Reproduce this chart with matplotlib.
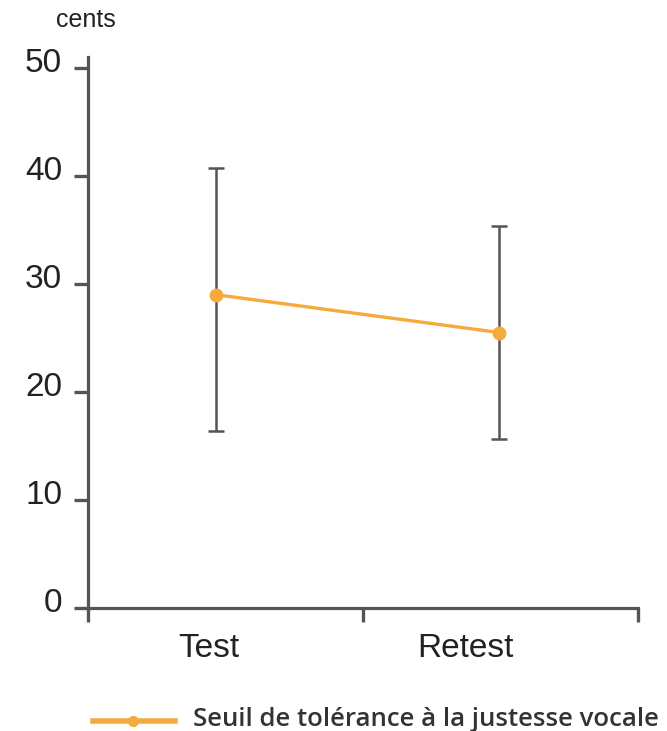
import numpy as np
import matplotlib.pyplot as plt
import matplotlib.transforms as mtransforms
from matplotlib.lines import Line2D

# données
conditions = ["Test", "Retest"]
x_pos = [0.465, 1.495]
moyenne = [29.0, 25.5]
borne_basse = [16.4, 15.6]
borne_haute = [40.7, 35.4]

y_ticks = [0, 10, 20, 30, 40, 50]
label_pos = [0.44, 1.371]

orange = "#F5AA3C"
gris = "#555555"

plt.rcParams['font.family'] = ['Liberation Sans', 'DejaVu Sans']

fig = plt.figure(figsize=(6.67, 7.31), dpi=100)
ax = fig.add_axes([0.132, 1 - 608 / 731, 0.8245, (608 - 57) / 731])

moy = np.array(moyenne)
err = [moy - np.array(borne_basse), np.array(borne_haute) - moy]
ax.errorbar(x_pos, moyenne, yerr=err, fmt='none', ecolor=gris, elinewidth=1.8,
            capsize=5.5, capthick=1.8, zorder=2)
ax.plot(x_pos, moyenne, color=orange, lw=2.4, marker='o', ms=9, zorder=3)

ax.set_xlim(0, 2)
ax.set_ylim(0, 51)
ax.set_xticks([0, 1, 2])
ax.set_xticklabels([])
ax.set_yticks(y_ticks)
ax.set_yticklabels([])

# étiquettes de l'axe y, un peu au-dessus des graduations
decal = mtransforms.ScaledTranslation(-26 / 100, 4.5 / 100, fig.dpi_scale_trans)
for v in y_ticks:
    ax.text(0, v, str(v), ha='right', va='center', fontsize=24, color="#222222",
            transform=ax.get_yaxis_transform() + decal)

for s in ['top', 'right']:
    ax.spines[s].set_visible(False)
for s in ['left', 'bottom']:
    ax.spines[s].set_color(gris)
    ax.spines[s].set_linewidth(2.3)
ax.tick_params(axis='y', length=10, width=2.4, color=gris)
ax.tick_params(axis='x', length=10, width=2.4, color=gris)

for xp, lab in zip(label_pos, conditions):
    ax.text(xp, -2.3, lab, ha='center', va='top', fontsize=24, color="#222222")

fig.text(86 / 667, 1 - 20 / 731, "cents", ha='center', va='center', fontsize=18,
         color="#222222")

# légende
leg_ax = fig.add_axes([0, 0, 1, 1], facecolor='none')
leg_ax.set_axis_off()
leg_ax.set_xlim(0, 667)
leg_ax.set_ylim(731, 0)
leg_ax.add_line(Line2D([93, 175], [721, 721], color=orange, lw=4))
leg_ax.plot([133], [721], 'o', color=orange, ms=7)
leg_ax.text(193, 726, "Seuil de tolérance à la justesse vocale", ha='left', va='baseline',
            fontsize=18.5, fontweight='semibold', family=['Open Sans', 'DejaVu Sans'],
            color="#333333")

fig.savefig("out.png", dpi=100)
